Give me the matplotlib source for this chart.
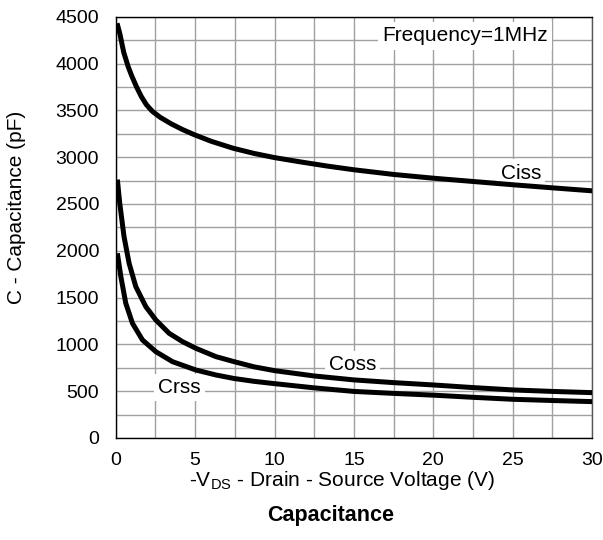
import numpy as np
import matplotlib
matplotlib.use('Agg')
import matplotlib.pyplot as plt
from matplotlib.ticker import MultipleLocator

plt.rcParams['font.family'] = ['Liberation Sans', 'DejaVu Sans']

# Capacitance vs -VDS
vds_ciss = [0.08, 0.25, 0.5, 0.78, 1.0, 1.3, 1.6, 1.93, 2.3, 2.8, 3.5, 4.2, 4.94, 6.0, 7.39, 8.7, 10, 11.6, 13.3, 15, 17.5, 20, 22.5, 25, 27.5, 30]
ciss = [4430, 4323, 4120, 3967, 3870, 3753, 3650, 3560, 3490, 3425, 3355, 3295, 3240, 3170, 3095, 3040, 2995, 2950, 2905, 2865, 2815, 2775, 2740, 2705, 2672, 2640]

vds_coss = [0.1, 0.25, 0.52, 0.84, 1.26, 1.89, 2.52, 3.36, 4.2, 5.04, 6.3, 7.45, 8.7, 10, 12.5, 15, 17.5, 20, 22.5, 25, 27.5, 30]
coss = [2760, 2507, 2150, 1866, 1617, 1403, 1261, 1118, 1029, 958, 869, 815, 760, 719, 662, 620, 591, 566, 538, 513, 497, 484]

vds_crss = [0.1, 0.32, 0.63, 1.05, 1.68, 2.52, 3.57, 5.04, 6.3, 7.45, 8.7, 10, 12.5, 15, 17.5, 20, 22.5, 25, 27.5, 30]
crss = [1973, 1724, 1439, 1225, 1047, 922, 815, 726, 673, 635, 605, 580, 535, 497, 476, 457, 434, 413, 400, 388]

fig = plt.figure(figsize=(6.03, 5.40), dpi=100)
ax = fig.add_axes([0.192, 0.189, 0.790, 0.780])

for x, y in [(vds_ciss, ciss), (vds_coss, coss), (vds_crss, crss)]:
    ax.plot(x, y, color='black', lw=3.6, solid_capstyle='butt', solid_joinstyle='round', zorder=3)

ax.set_xlim(0, 30)
ax.set_ylim(0, 4500)
ax.xaxis.set_major_locator(MultipleLocator(5))
ax.xaxis.set_minor_locator(MultipleLocator(2.5))
ax.yaxis.set_major_locator(MultipleLocator(500))
ax.yaxis.set_minor_locator(MultipleLocator(250))
ax.grid(which='both', color='#a0a0a0', lw=1.0, zorder=0)
ax.set_axisbelow(True)
ax.tick_params(which='both', length=0, labelsize=14)
ax.tick_params(axis='x', pad=10)
ax.tick_params(axis='y', pad=12)

for s in ax.spines.values():
    s.set_linewidth(1.0)
    s.set_color('black')
ax.spines['right'].set_color('#555555')

box = dict(facecolor='white', edgecolor='none', pad=3)
ax.text(16.8, 4295, 'Frequency=1MHz', fontsize=15, ha='left', va='center', bbox=box, zorder=2)
ax.text(25.5, 2830, 'Ciss', fontsize=15, ha='center', va='center', bbox=box, zorder=2)
ax.text(14.9, 780, 'Coss', fontsize=15, ha='center', va='center', bbox=box, zorder=2)
ax.text(4.0, 540, 'Crss', fontsize=15, ha='center', va='center', bbox=box, zorder=2)

fig.text(0.567, 1 - 480 / 540, '-V$_{\\mathregular{DS}}$ - Drain - Source Voltage (V)',
         fontsize=15, ha='center', va='center')
fig.text(17 / 603, 1 - 207 / 540, 'C - Capacitance (pF)', fontsize=15,
         rotation=90, ha='center', va='center')
fig.text(0.549, 1 - 516 / 540, 'Capacitance', fontsize=15.5, fontweight='bold',
         ha='center', va='center')

fig.savefig('out.png', dpi=100)
